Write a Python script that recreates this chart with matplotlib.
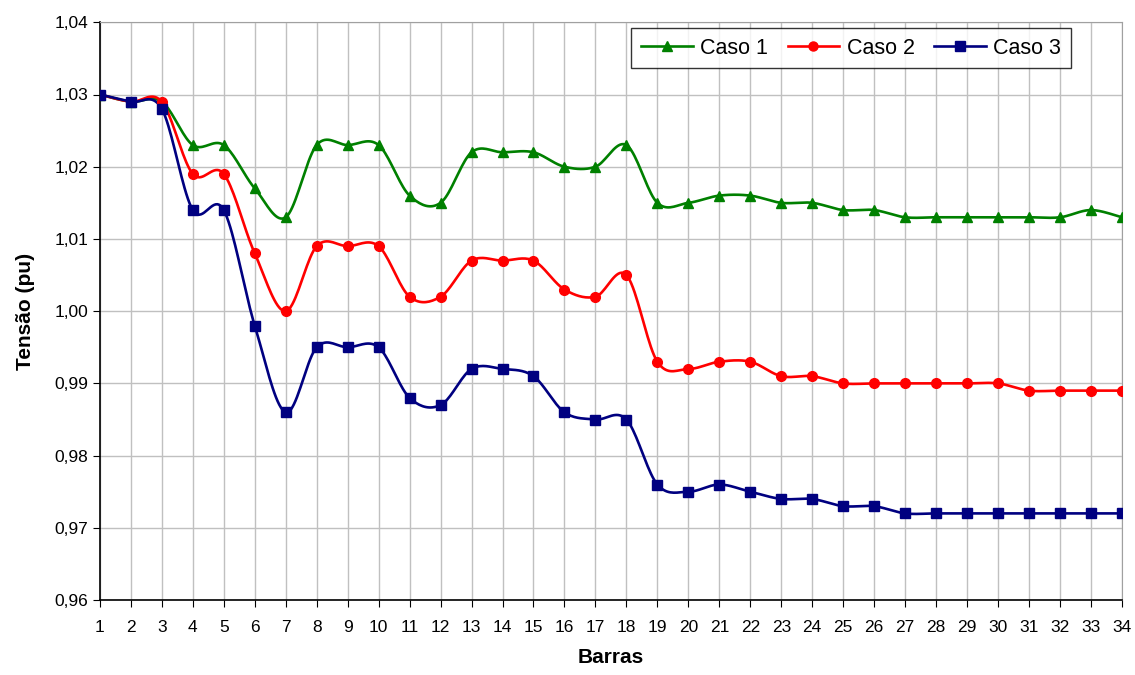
import numpy as np
import matplotlib.pyplot as plt

plt.rcParams['font.family'] = ['Liberation Sans', 'DejaVu Sans']

barras = list(range(1, 35))

caso1 = [1.030, 1.029, 1.029, 1.023, 1.023, 1.017, 1.013, 1.023, 1.023, 1.023,
         1.016, 1.015, 1.022, 1.022, 1.022, 1.020, 1.020, 1.023, 1.015, 1.015,
         1.016, 1.016, 1.015, 1.015, 1.014, 1.014, 1.013, 1.013, 1.013, 1.013,
         1.013, 1.013, 1.014, 1.013]
caso2 = [1.030, 1.029, 1.029, 1.019, 1.019, 1.008, 1.000, 1.009, 1.009, 1.009,
         1.002, 1.002, 1.007, 1.007, 1.007, 1.003, 1.002, 1.005, 0.993, 0.992,
         0.993, 0.993, 0.991, 0.991, 0.990, 0.990, 0.990, 0.990, 0.990, 0.990,
         0.989, 0.989, 0.989, 0.989]
caso3 = [1.030, 1.029, 1.028, 1.014, 1.014, 0.998, 0.986, 0.995, 0.995, 0.995,
         0.988, 0.987, 0.992, 0.992, 0.991, 0.986, 0.985, 0.985, 0.976, 0.975,
         0.976, 0.975, 0.974, 0.974, 0.973, 0.973, 0.972, 0.972, 0.972, 0.972,
         0.972, 0.972, 0.972, 0.972]

yticks = [0.96, 0.97, 0.98, 0.99, 1.00, 1.01, 1.02, 1.03, 1.04]


def smooth(x, y, n=20):
    # bezier smoothing like spreadsheet "smoothed line"
    x = np.asarray(x, float)
    y = np.asarray(y, float)
    xs, ys = [], []
    for i in range(len(x) - 1):
        p0 = np.array([x[max(i - 1, 0)], y[max(i - 1, 0)]])
        p1 = np.array([x[i], y[i]])
        p2 = np.array([x[i + 1], y[i + 1]])
        p3 = np.array([x[min(i + 2, len(x) - 1)], y[min(i + 2, len(x) - 1)]])
        c1 = p1 + (p2 - p0) / 6
        c2 = p2 - (p3 - p1) / 6
        t = np.linspace(0, 1, n)[:, None]
        pts = ((1 - t) ** 3) * p1 + 3 * ((1 - t) ** 2) * t * c1 + 3 * (1 - t) * t ** 2 * c2 + t ** 3 * p2
        xs.extend(pts[:, 0])
        ys.extend(pts[:, 1])
    return xs, ys


fig = plt.figure(figsize=(11.35, 6.75), dpi=100)
ax = fig.add_axes([0.088, 0.111, 0.9005, 0.856])

series = [(caso1, '#008000', '^', 'Caso 1'),
          (caso2, '#ff0000', 'o', 'Caso 2'),
          (caso3, '#000080', 's', 'Caso 3')]
for vals, col, mk, lab in series:
    sx, sy = smooth(barras, vals)
    ax.plot(sx, sy, color=col, lw=1.9, zorder=3)
    ax.plot(barras, vals, ls='none', marker=mk, color=col, ms=7, zorder=4)
    ax.plot([], [], color=col, lw=1.9, marker=mk, ms=6.5, label=lab)

ax.set_xlim(1, 34)
ax.set_ylim(0.96, 1.04)
ax.set_xticks(barras)
ax.set_yticks(yticks)
ax.set_yticklabels([f'{v:.2f}'.replace('.', ',') for v in yticks])
ax.tick_params(labelsize=12.5, length=5, color='black')
ax.tick_params(axis='x', pad=9)
ax.grid(True, color='#c0c0c0', lw=1)
ax.set_axisbelow(True)
for s in ['top', 'right']:
    ax.spines[s].set_color('#a0a0a0')
for s in ['left', 'bottom']:
    ax.spines[s].set_color('black')
    ax.spines[s].set_linewidth(1.2)

ax.set_xlabel('Barras', fontsize=15, fontweight='bold', labelpad=10)
ax.set_ylabel('Tensão (pu)', fontsize=15, fontweight='bold', labelpad=14)

leg = ax.legend(loc='upper right', bbox_to_anchor=(0.950, 0.990), ncol=3,
                fontsize=15.5, frameon=True, fancybox=False, handlelength=2.4,
                columnspacing=0.9, handletextpad=0.35, borderpad=0.45,
                borderaxespad=0)
leg.get_frame().set_edgecolor('black')
leg.get_frame().set_linewidth(1)

fig.savefig('out.png', dpi=100)
